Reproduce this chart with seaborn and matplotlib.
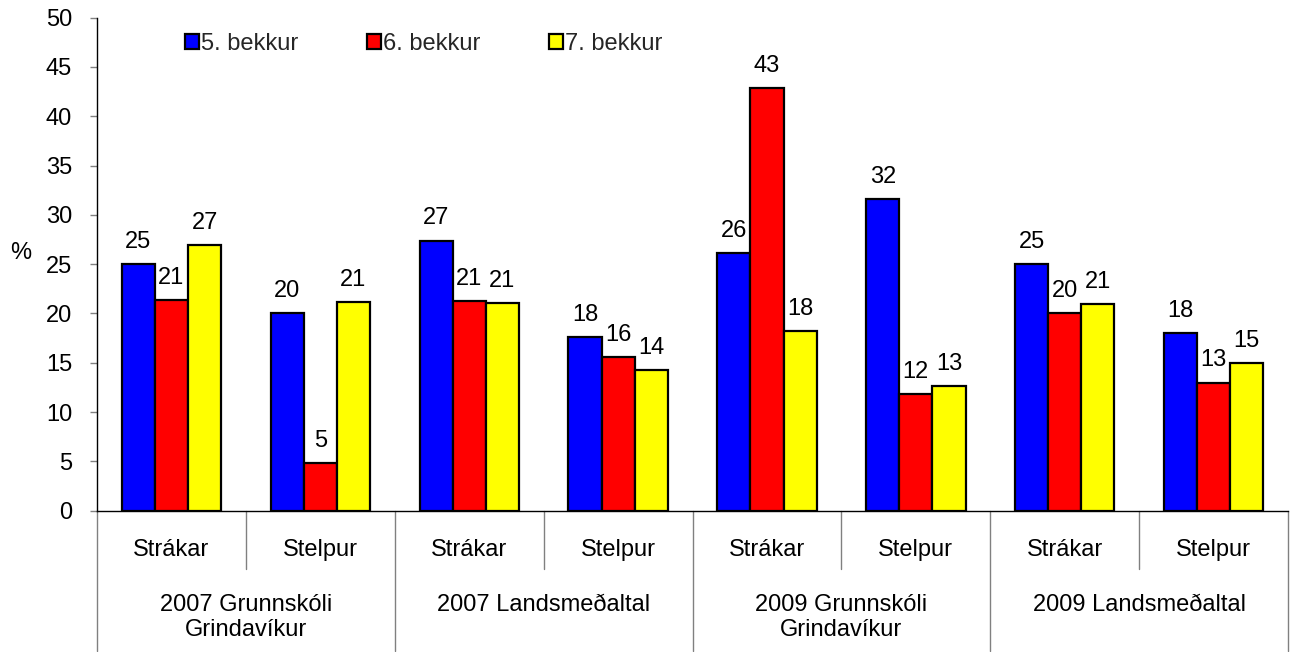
import matplotlib

matplotlib.use('Agg')
import pandas as pd
import matplotlib.pyplot as plt
import seaborn as sns

# ==========================================
# data
# ==========================================
groups = ['2007 Grunnskóli\nGrindavíkur', '2007 Landsmeðaltal',
          '2009 Grunnskóli\nGrindavíkur', '2009 Landsmeðaltal']
genders = ['Strákar', 'Stelpur']
series_names = ['5. bekkur', '6. bekkur', '7. bekkur']

bekkur5 = [25.0, 20.0, 27.4, 17.6, 26.1, 31.6, 25.0, 18.0]
bekkur6 = [21.4, 4.8, 21.3, 15.6, 42.9, 11.8, 20.0, 13.0]
bekkur7 = [26.9, 21.2, 21.1, 14.3, 18.2, 12.6, 21.0, 15.0]

colors = ['#0000FF', '#FF0000', '#FFFF00']
yticks = list(range(0, 51, 5))

# long-form table
keys = [g + '|' + s for g in groups for s in genders]
rows = []
for name, vals in zip(series_names, [bekkur5, bekkur6, bekkur7]):
    for k, v in zip(keys, vals):
        rows.append({'cat': k, 'bekkur': name, 'value': v})
df = pd.DataFrame(rows)

sns.set_theme(style='white')
plt.rcParams['font.family'] = ['Liberation Sans', 'DejaVu Sans']
FS = 17

fig = plt.figure(figsize=(12.94, 6.52), dpi=100)
ax = fig.add_axes([0.075, 0.2167, 0.9204, 0.7562])

sns.barplot(data=df, x='cat', y='value', hue='bekkur', order=keys,
            hue_order=series_names, palette=colors, width=0.667, gap=0,
            edgecolor='black', linewidth=1.6, saturation=1, ax=ax)

for cont in ax.containers:
    ax.bar_label(cont, fmt='%.0f', padding=8, fontsize=FS, color='black')

ax.set_ylim(0, 50)
ax.set_yticks(yticks)
ax.tick_params(axis='y', labelsize=FS, length=5, width=1, direction='out',
               left=True, pad=13, color='#808080', labelcolor='black')
ax.set_xticks([])
ax.set_xlabel('')
ax.set_ylabel('%', rotation=0, fontsize=FS, color='black')
ax.yaxis.set_label_coords(-0.064, 0.5)
ax.set_xlim(-0.5, len(keys) - 0.5)

for side in ['top', 'right']:
    ax.spines[side].set_visible(False)
for side in ['left', 'bottom']:
    ax.spines[side].set_color('black')
    ax.spines[side].set_linewidth(1)

# hierarchical category axis
trans = ax.get_xaxis_transform()
for i, k in enumerate(keys):
    ax.text(i, -0.08, k.split('|')[1], transform=trans, ha='center', va='center',
            fontsize=FS, color='black')
for j, g in enumerate(groups):
    ax.text(2 * j + 0.5, -0.169, g, transform=trans, ha='center', va='top',
            fontsize=FS, color='black', linespacing=1.2)
for b in range(len(keys) + 1):
    xb = b - 0.5
    low = -0.285 if b % 2 == 0 else -0.118
    ax.plot([xb, xb], [0, low], transform=trans, color='#808080', lw=1,
            clip_on=False)

handles, labels = ax.get_legend_handles_labels()
ax.legend(handles, labels, loc='center left', bbox_to_anchor=(0.074, 0.947),
          ncol=3, frameon=False, fontsize=FS, handlelength=0.58,
          handleheight=0.58, handletextpad=0.1, columnspacing=2.9,
          borderaxespad=0, borderpad=0)

fig.savefig('out.png', dpi=100)
